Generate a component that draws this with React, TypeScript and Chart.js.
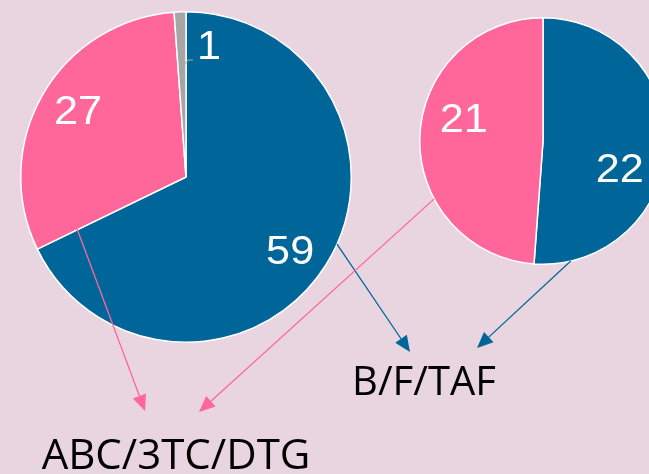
import React, { useEffect, useRef } from 'react';
import { Chart, registerables } from 'chart.js';
Chart.register(...registerables);

// ---- data ----
const leftLabels = ['B/F/TAF', 'ABC/3TC/DTG', 'Other'];
const leftValues = [59, 27, 1];
const rightLabels = ['B/F/TAF', 'ABC/3TC/DTG'];
const rightValues = [22, 21];
const groupLabels = ['B/F/TAF', 'ABC/3TC/DTG'];

// ---- style ----
const BLUE = '#006699';
const PINK = '#FF6699';
const GRAY = '#A6A6A6';
const BG = '#E8D5E0';

// slice value label placement: radius fraction, angular shift (deg, clockwise)
const leftLabelPlace = [
  { r: 0.77, shift: 3 },
  { r: 0.77, shift: 2 },
  { r: 0.81, shift: 12, leader: true },
];
const rightLabelPlace = [
  { r: 0.66, shift: 17 },
  { r: 0.67, shift: 14 },
];

// group label anchors (center x, baseline y) and font sizes
const groupLabelPos = [
  { x: 424, y: 395, size: 40 },
  { x: 176, y: 469, size: 42 },
];

// arrows: start on a pie (angle from top, clockwise; radius fraction), end relative to a group label
const arrows = [
  { color: BLUE, pie: 'left', angle: 114, r: 1.0, label: 0, dx: -14, dy: -43 },
  { color: BLUE, pie: 'right', angle: 167, r: 1.0, label: 0, dx: 53, dy: -47 },
  { color: PINK, pie: 'left', angle: 244.5, r: 0.73, label: 1, dx: -31, dy: -58 },
  { color: PINK, pie: 'right', angle: 242, r: 1.0, label: 1, dx: 23, dy: -57 },
];

const RIGHT_OFFSET = { left: 419, top: 17, size: 248 };

function sliceLabels(place: any[]) {
  return {
    id: 'sliceLabels',
    afterDatasetsDraw(chart: any) {
      const ctx = chart.ctx;
      const meta = chart.getDatasetMeta(0);
      const vals = chart.data.datasets[0].data;
      const fs = 40;
      const sx = 1.08;
      meta.data.forEach((arc: any, i: number) => {
        const p = place[i];
        const { x, y, startAngle, endAngle, outerRadius } = arc.getProps(
          ['x', 'y', 'startAngle', 'endAngle', 'outerRadius'], true);
        const mid = (startAngle + endAngle) / 2;
        const a = mid + (p.shift * Math.PI) / 180;
        const lx = x + Math.cos(a) * outerRadius * p.r;
        const ly = y + Math.sin(a) * outerRadius * p.r;
        if (p.leader) {
          const px = x + Math.cos(mid) * outerRadius * 0.66;
          const py = y + Math.sin(mid) * outerRadius * 0.66;
          ctx.save();
          ctx.strokeStyle = GRAY;
          ctx.lineWidth = 1;
          ctx.beginPath();
          ctx.moveTo(px, py);
          ctx.lineTo(px + 6, py - 8);
          ctx.lineTo(px + 11, py - 8);
          ctx.stroke();
          ctx.restore();
        }
        ctx.save();
        ctx.font = `${fs}px "Liberation Sans", Arial, sans-serif`;
        ctx.textAlign = 'center';
        ctx.textBaseline = 'alphabetic';
        ctx.fillStyle = '#ffffff';
        ctx.translate(lx, ly + fs * 0.358);
        ctx.scale(sx, 1);
        ctx.fillText(String(vals[i]), 0, 0);
        ctx.restore();
      });
    },
  };
}

function annotations(getRight: () => any) {
  return {
    id: 'annotations',
    afterDraw(chart: any) {
      const ctx = chart.ctx;
      const right = getRight();
      const pieGeom = (which: string) => {
        if (which === 'left') {
          const arc = chart.getDatasetMeta(0).data[0];
          return { x: arc.x, y: arc.y, r: arc.outerRadius };
        }
        const arc = right.getDatasetMeta(0).data[0];
        return { x: arc.x + RIGHT_OFFSET.left, y: arc.y + RIGHT_OFFSET.top, r: arc.outerRadius };
      };
      ctx.save();
      arrows.forEach((ar) => {
        const g = pieGeom(ar.pie);
        const a = ((ar.angle - 90) * Math.PI) / 180;
        const sx = g.x + Math.cos(a) * g.r * ar.r;
        const sy = g.y + Math.sin(a) * g.r * ar.r;
        const lp = groupLabelPos[ar.label];
        const ex = lp.x + ar.dx;
        const ey = lp.y + ar.dy;
        const ang = Math.atan2(ey - sy, ex - sx);
        const hl = 16;
        const hw = 7;
        const bx = ex - Math.cos(ang) * hl;
        const by = ey - Math.sin(ang) * hl;
        ctx.strokeStyle = ar.color;
        ctx.fillStyle = ar.color;
        ctx.lineWidth = 1.3;
        ctx.beginPath();
        ctx.moveTo(sx, sy);
        ctx.lineTo(bx, by);
        ctx.stroke();
        ctx.beginPath();
        ctx.moveTo(ex, ey);
        ctx.lineTo(bx - Math.sin(ang) * hw, by + Math.cos(ang) * hw);
        ctx.lineTo(bx + Math.sin(ang) * hw, by - Math.cos(ang) * hw);
        ctx.closePath();
        ctx.fill();
      });
      ctx.fillStyle = '#000000';
      ctx.textAlign = 'center';
      ctx.textBaseline = 'alphabetic';
      groupLabels.forEach((t, i) => {
        ctx.font = `${groupLabelPos[i].size}px "Open Sans", sans-serif`;
        ctx.fillText(t, groupLabelPos[i].x, groupLabelPos[i].y);
      });
      ctx.restore();
    },
  };
}

export default function App() {
  const leftRef = useRef<HTMLCanvasElement>(null);
  const rightRef = useRef<HTMLCanvasElement>(null);

  useEffect(() => {
    document.body.style.margin = '0';
    const right = new Chart(rightRef.current as HTMLCanvasElement, {
      type: 'pie',
      data: {
        labels: rightLabels,
        datasets: [{
          data: rightValues,
          backgroundColor: [BLUE, PINK],
          borderColor: '#ffffff',
          borderWidth: 1.5,
        }],
      },
      options: {
        responsive: false,
        animation: false,
        layout: { padding: 0 },
        plugins: { legend: { display: false }, tooltip: { enabled: false } },
      },
      plugins: [sliceLabels(rightLabelPlace)],
    } as any);
    const left = new Chart(leftRef.current as HTMLCanvasElement, {
      type: 'pie',
      data: {
        labels: leftLabels,
        datasets: [{
          data: leftValues,
          backgroundColor: [BLUE, PINK, GRAY],
          borderColor: '#ffffff',
          borderWidth: 1.5,
        }],
      },
      options: {
        responsive: false,
        animation: false,
        layout: { padding: { left: 20, top: 11, right: 297, bottom: 131 } },
        plugins: { legend: { display: false }, tooltip: { enabled: false } },
      },
      plugins: [sliceLabels(leftLabelPlace), annotations(() => right)],
    } as any);
    return () => {
      left.destroy();
      right.destroy();
    };
  }, []);

  return (
    <div style={{ position: 'relative', width: 649, height: 474, overflow: 'hidden', background: BG }}>
      <canvas
        ref={rightRef}
        width={RIGHT_OFFSET.size}
        height={RIGHT_OFFSET.size}
        style={{ position: 'absolute', left: RIGHT_OFFSET.left, top: RIGHT_OFFSET.top }}
      />
      <canvas
        ref={leftRef}
        width={649}
        height={474}
        style={{ position: 'absolute', left: 0, top: 0 }}
      />
    </div>
  );
}
